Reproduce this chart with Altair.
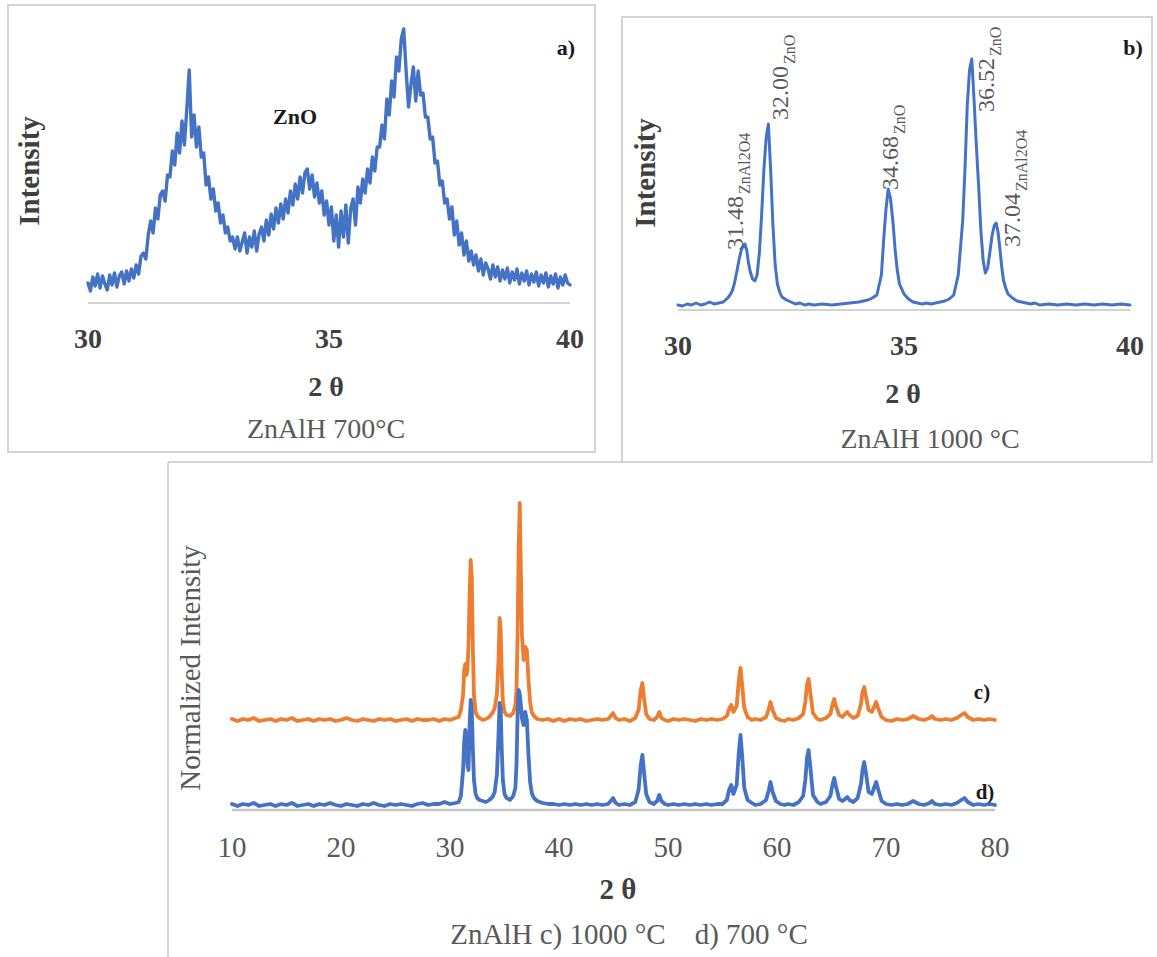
import altair as alt
import pandas as pd

# ---------------- Panel a) ZnAlH 700 °C (2θ 30-40, step 0.05) ----------------
a_theta = [round(30 + 0.05 * i, 2) for i in range(201)]
a_int = [
    20, 12, 26, 17, 29, 15, 27, 19, 13, 28, 18, 30, 16, 27, 31, 19, 32, 22, 34, 25,
    38, 29, 47, 50, 44, 68, 82, 70, 95, 84, 108, 112, 102, 128, 126, 152, 138, 170, 150, 182,
    158, 194, 233, 166, 188, 156, 176, 146, 150, 118, 126, 104, 114, 92, 100, 80, 88, 70, 76, 62,
    66, 54, 66, 52, 61, 70, 50, 66, 56, 72, 52, 69, 76, 62, 83, 68, 89, 74, 95, 80,
    99, 84, 104, 90, 112, 98, 119, 104, 126, 110, 130, 134, 114, 128, 106, 120, 100, 112, 88, 102,
    78, 96, 62, 88, 56, 92, 66, 98, 60, 94, 104, 78, 116, 100, 124, 110, 134, 120, 146, 132,
    156, 156, 178, 164, 204, 188, 222, 206, 246, 232, 264, 274, 232, 196, 218, 236, 202, 232, 208, 210,
    186, 186, 164, 166, 140, 142, 118, 122, 100, 104, 84, 96, 68, 82, 58, 70, 48, 62, 42, 52,
    38, 48, 32, 44, 28, 40, 34, 24, 38, 26, 36, 22, 33, 24, 35, 20, 31, 23, 34, 19,
    30, 22, 32, 18, 29, 21, 31, 17, 28, 20, 30, 16, 27, 19, 29, 15, 26, 18, 28, 20,
    18,
]
a_ticks = [30, 35, 40]

# ---------------- Panel b) ZnAlH 1000 °C ----------------
b_theta = [
    30.0, 30.1, 30.2, 30.3, 30.4, 30.5, 30.6, 30.7, 30.8, 30.9,
    31.0, 31.05, 31.1, 31.15, 31.2, 31.25, 31.3, 31.35, 31.4, 31.45,
    31.48, 31.52, 31.56, 31.6, 31.65, 31.7, 31.75, 31.8, 31.85, 31.9,
    31.95, 32.0, 32.05, 32.1, 32.15, 32.2, 32.25, 32.3, 32.4, 32.5,
    32.6, 32.7, 32.8, 32.9, 33.0, 33.2, 33.4, 33.6, 33.8, 34.0,
    34.1, 34.2, 34.3, 34.4, 34.5, 34.55, 34.6, 34.65, 34.7, 34.76,
    34.8, 34.85, 34.9, 35.0, 35.1, 35.2, 35.3, 35.4, 35.5, 35.6,
    35.7, 35.8, 35.9, 36.0, 36.1, 36.2, 36.3, 36.35, 36.4, 36.45,
    36.5, 36.55, 36.6, 36.65, 36.7, 36.75, 36.8, 36.85, 36.9, 36.95,
    37.0, 37.04, 37.08, 37.12, 37.16, 37.2, 37.25, 37.3, 37.4, 37.5,
    37.6, 37.7, 37.8, 37.9, 38.0, 38.2, 38.4, 38.6, 38.8, 39.0,
    39.2, 39.4, 39.6, 39.8, 40.0,
]
b_int = [
    5, 4, 6, 5, 7, 5, 6, 8, 6, 7,
    8, 10, 12, 15, 19, 27, 38, 50, 60, 65,
    66, 60, 47, 38, 31, 29, 35, 57, 95, 140,
    172, 186, 140, 85, 45, 26, 18, 13, 10, 8,
    6, 7, 5, 6, 5, 6, 5, 6, 7, 8,
    9, 10, 12, 15, 35, 70, 100, 121, 112, 86,
    62, 40, 26, 16, 11, 8, 7, 6, 7, 6,
    7, 8, 9, 11, 15, 35, 90, 142, 205, 240,
    251, 210, 165, 125, 80, 50, 37, 42, 58, 75,
    85, 87, 78, 62, 44, 30, 22, 16, 12, 9,
    8, 7, 6, 7, 5, 6, 5, 6, 5, 6,
    5, 6, 5, 6, 5,
]
b_ticks = [30, 35, 40]
b_peaks = [31.48, 32.00, 34.68, 36.52, 37.04]
b_peak_labels = ["31.48", "32.00", "34.68", "36.52", "37.04"]
b_peak_phases = ["ZnAl2O4", "ZnO", "ZnO", "ZnO", "ZnAl2O4"]

# ---------------- Panel c) 1000 °C (offset) and d) 700 °C ----------------
c_theta = [10 + 0.5 * i for i in range(42)] + [
    30.8, 31.0, 31.2, 31.3, 31.4, 31.5, 31.6, 31.7, 31.8, 31.9,
    32.0, 32.1, 32.2, 32.35, 32.5, 32.7, 33.0, 33.3, 33.6, 33.9,
    34.1, 34.3, 34.45, 34.55, 34.65, 34.75, 34.85, 35.0, 35.2, 35.5,
    35.8, 36.0, 36.1, 36.2, 36.3, 36.4, 36.5, 36.6, 36.75, 36.9,
    37.05, 37.2, 37.35, 37.5, 37.7, 38.0,
    38.5, 39.0, 39.5, 40.0, 40.5, 41.0, 41.5, 42.0, 42.5, 43.0,
    43.5, 44.0, 44.5, 44.75, 44.95, 45.2, 45.5, 46.0, 46.5, 47.0,
    47.3, 47.5, 47.65, 47.8, 48.0, 48.3, 48.7, 49.0, 49.2, 49.4,
    49.7, 50.0, 50.5, 51.0, 51.5, 52.0, 52.5, 53.0, 53.5, 54.0,
    54.5, 55.0, 55.4, 55.6, 55.8, 56.0, 56.3, 56.5, 56.65, 56.8,
    57.0, 57.3, 57.7, 58.0, 58.5, 59.0, 59.25, 59.4, 59.6, 59.9,
    60.3, 60.7, 61.0, 61.5, 62.0, 62.4, 62.6, 62.75, 62.9, 63.05,
    63.3, 63.7, 64.0, 64.5, 64.9, 65.1, 65.25, 65.4, 65.7, 66.0,
    66.25, 66.45, 66.65, 67.0, 67.4, 67.7, 67.85, 68.0, 68.15, 68.4,
    68.7, 68.9, 69.1, 69.3, 69.6, 70.0, 70.5, 71.0, 71.5, 72.0,
    72.5, 73.0, 73.5, 74.0, 74.2, 74.5, 75.0, 75.5, 76.0, 76.5,
    76.9, 77.2, 77.5, 78.0, 78.5, 79.0, 79.5, 80.0,
]
c_1000 = [
    91, 89, 91, 90, 92, 89, 90, 91, 89, 91,
    90, 92, 89, 90, 91, 89, 91, 90, 91, 89,
    90, 92, 90, 89, 91, 90, 89, 91, 90, 91,
    89, 90, 91, 89, 91, 90, 90, 91, 89, 91,
    90, 92,
    93, 100, 115, 140, 146, 135, 140, 165, 215, 250,
    232, 160, 115, 98, 94, 92, 90, 91, 93, 97,
    102, 115, 150, 192, 180, 135, 108, 98, 95, 94,
    97, 105, 120, 175, 262, 307, 240, 175, 150, 163,
    160, 130, 108, 98, 94, 91,
    90, 91, 89, 91, 89, 91, 90, 91, 89, 90,
    91, 90, 91, 94, 97, 92, 90, 91, 89, 92,
    100, 120, 127, 112, 96, 91, 90, 93, 98, 92,
    90, 89, 91, 90, 91, 90, 89, 91, 90, 91,
    90, 91, 94, 101, 105, 98, 104, 130, 142, 125,
    102, 93, 90, 91, 90, 93, 101, 108, 100, 92,
    90, 89, 91, 90, 92, 96, 108, 125, 131, 118,
    97, 91, 90, 92, 96, 106, 111, 104, 95, 93,
    96, 98, 95, 92, 94, 106, 118, 123, 114, 100,
    98, 103, 108, 101, 93, 90, 89, 91, 90, 91,
    94, 91, 90, 92, 94, 91, 90, 91, 90, 92,
    95, 97, 93, 90, 91, 90, 91, 90,
]
c_700 = [
    6, 4, 6, 5, 7, 4, 5, 6, 4, 6,
    5, 7, 4, 5, 6, 4, 6, 5, 7, 5,
    4, 6, 5, 4, 6, 5, 7, 5, 4, 6,
    5, 6, 5, 4, 6, 7, 5, 6, 6, 8,
    6, 7,
    8, 14, 40, 68, 80, 72, 45, 40, 85, 110,
    100, 60, 30, 16, 12, 10, 9, 8, 10, 13,
    18, 35, 75, 107, 100, 60, 30, 16, 12, 10,
    14, 22, 45, 95, 120, 116, 105, 92, 85, 98,
    90, 55, 28, 17, 12, 9,
    7, 6, 6, 5, 6, 5, 6, 5, 6, 5,
    6, 5, 6, 9, 12, 7, 5, 6, 5, 8,
    20, 45, 55, 38, 16, 8, 6, 9, 15, 9,
    6, 5, 6, 5, 6, 5, 6, 5, 6, 5,
    6, 6, 10, 20, 25, 16, 25, 58, 75, 55,
    22, 10, 7, 5, 6, 10, 20, 28, 18, 9,
    6, 5, 6, 5, 8, 14, 30, 52, 60, 44,
    15, 8, 6, 8, 14, 26, 32, 24, 11, 9,
    11, 13, 10, 8, 12, 26, 40, 48, 38, 18,
    16, 22, 28, 20, 9, 6, 5, 6, 5, 6,
    9, 6, 5, 7, 9, 6, 5, 6, 5, 7,
    10, 12, 8, 5, 6, 5, 6, 5,
]
c_ticks = [10, 20, 30, 40, 50, 60, 70, 80]

# ---------------- styling ----------------
FONT = "Liberation Serif"
BLUE = "#4472C4"
ORANGE = "#ED7D31"
AXIS = "#C4C4C4"
BOX = "#D4D4D4"
DARK = "#3F3F3F"
GRAY = "#595959"

# label placement for panel b peaks (start level in intensity units, sideways shift px)
b_label_level = [60, 190, 120, 198, 63]
b_label_shift = [-2, 20, 8, 21, 24]


def lin(dom, rng):
    return alt.Scale(domain=dom, range=rng, nice=False, zero=False)


def label(text, x, y, size, weight="normal", color=DARK, angle=0):
    kw = dict(font=FONT, fontSize=size, fontWeight=weight, color=color,
              align="center", baseline="middle")
    if angle:
        kw["angle"] = angle
    return alt.Chart(alt.Data(values=[{}])).mark_text(**kw).encode(
        x=alt.value(x), y=alt.value(y), text=alt.value(text))


def box(x0, x1, y0, y1):
    return alt.Chart(alt.Data(values=[{}])).mark_rect(
        fill="transparent", stroke=BOX, strokeWidth=2).encode(
        x=alt.value(x0), x2=alt.value(x1), y=alt.value(y0), y2=alt.value(y1))


def xy_line(df, xs, ys, color, width):
    return alt.Chart(df).mark_line(color=color, strokeWidth=width,
                                   strokeJoin="round", strokeCap="round").encode(
        x=alt.X("theta:Q", scale=xs, axis=None),
        y=alt.Y("intensity:Q", scale=ys, axis=None))


def axis_line(xs, lo, hi, ypix, width=1.5):
    return alt.Chart(pd.DataFrame({"lo": [lo], "hi": [hi]})).mark_rule(
        color=AXIS, strokeWidth=width).encode(
        x=alt.X("lo:Q", scale=xs, axis=None), x2="hi:Q", y=alt.value(ypix))


def tick_labels(xs, ticks, ypix, size, weight, color):
    return alt.Chart(pd.DataFrame({"t": ticks})).mark_text(
        font=FONT, fontSize=size, fontWeight=weight, color=color,
        align="center", baseline="middle").encode(
        x=alt.X("t:Q", scale=xs, axis=None), y=alt.value(ypix),
        text=alt.Text("t:Q"))


# ---------------- panel a ----------------
xa = lin([30, 40], [88, 570])
ya = lin([0, 285], [303, 18])
panel_a = alt.layer(
    axis_line(xa, 30, 40, 303),
    xy_line(pd.DataFrame({"theta": a_theta, "intensity": a_int}), xa, ya, BLUE, 3.4),
    tick_labels(xa, a_ticks, 340, 28, "bold", DARK),
)

# ---------------- panel b ----------------
xb = lin([30, 40], [678, 1130])
yb = lin([0, 290], [310, 20])
b_layers = [
    axis_line(xb, 30, 40, 310),
    xy_line(pd.DataFrame({"theta": b_theta, "intensity": b_int}), xb, yb, BLUE, 3.0),
    tick_labels(xb, b_ticks, 347, 28, "bold", DARK),
]
for th, lvl, txt, sub, shift in zip(b_peaks, b_label_level, b_peak_labels,
                                    b_peak_phases, b_label_shift):
    d = pd.DataFrame({"theta": [th], "level": [lvl], "txt": [txt], "sub": [sub]})
    b_layers.append(alt.Chart(d).mark_text(
        font=FONT, fontSize=24, color=GRAY, angle=270, align="left",
        baseline="alphabetic", dy=shift).encode(
        x=alt.X("theta:Q", scale=xb, axis=None),
        y=alt.Y("level:Q", scale=yb, axis=None), text="txt:N"))
    b_layers.append(alt.Chart(d).mark_text(
        font=FONT, fontSize=16, color=GRAY, angle=270, align="left",
        baseline="alphabetic", dx=56, dy=shift + 7).encode(
        x=alt.X("theta:Q", scale=xb, axis=None),
        y=alt.Y("level:Q", scale=yb, axis=None), text="sub:N"))
panel_b = alt.layer(*b_layers)

# ---------------- panel c ----------------
xc = lin([10, 80], [232, 995])
yc = lin([0, 320], [810, 490])
panel_c = alt.layer(
    axis_line(xc, 10, 80, 810, 2.5),
    xy_line(pd.DataFrame({"theta": c_theta, "intensity": c_1000}), xc, yc, ORANGE, 3.8),
    xy_line(pd.DataFrame({"theta": c_theta, "intensity": c_700}), xc, yc, BLUE, 3.8),
    tick_labels(xc, c_ticks, 848, 29, "normal", GRAY),
)

# ---------------- frames and texts ----------------
decor = [
    box(8, 595, 5, 452),
    box(622, 1152, 17, 462),
    alt.Chart(alt.Data(values=[{}])).mark_rule(color=BOX, strokeWidth=2).encode(
        x=alt.value(168), y=alt.value(462), y2=alt.value(957)),
    alt.Chart(alt.Data(values=[{}])).mark_rule(color=BOX, strokeWidth=2).encode(
        x=alt.value(168), x2=alt.value(623), y=alt.value(462)),
]
texts = [
    # panel a
    label("Intensity", 30, 171, 29, "bold", DARK, 270),
    label("ZnO", 295, 117, 22, "bold", "#1A1A1A"),
    label("a)", 566, 48, 22, "bold", "#1A1A1A"),
    label("2 θ", 326, 388, 28, "bold", DARK),
    label("ZnAlH 700°C", 326, 430, 28, "normal", GRAY),
    # panel b
    label("Intensity", 646, 173, 29, "bold", DARK, 270),
    label("b)", 1133, 48, 22, "bold", "#1A1A1A"),
    label("2 θ", 903, 395, 28, "bold", DARK),
    label("ZnAlH 1000 °C", 930, 440, 28, "normal", GRAY),
    # panel c
    label("Normalized Intensity", 191, 668, 29, "normal", GRAY, 270),
    label("c)", 982, 693, 21, "bold", "#1A1A1A"),
    label("d)", 985, 793, 21, "bold", "#1A1A1A"),
    label("2 θ", 618, 890, 29, "bold", DARK),
    label("ZnAlH c) 1000 °C\u00a0\u00a0\u00a0\u00a0d) 700 °C", 629, 935, 29, "normal", GRAY),
]

chart = alt.layer(*decor, panel_a, panel_b, panel_c, *texts).resolve_scale(
    x="independent", y="independent"
).properties(
    width=1157, height=957, padding=0,
    autosize=alt.AutoSizeParams(type="none"),
).configure_view(stroke=None)

chart.save("out.html", embed_options={"renderer": "svg", "actions": False})
